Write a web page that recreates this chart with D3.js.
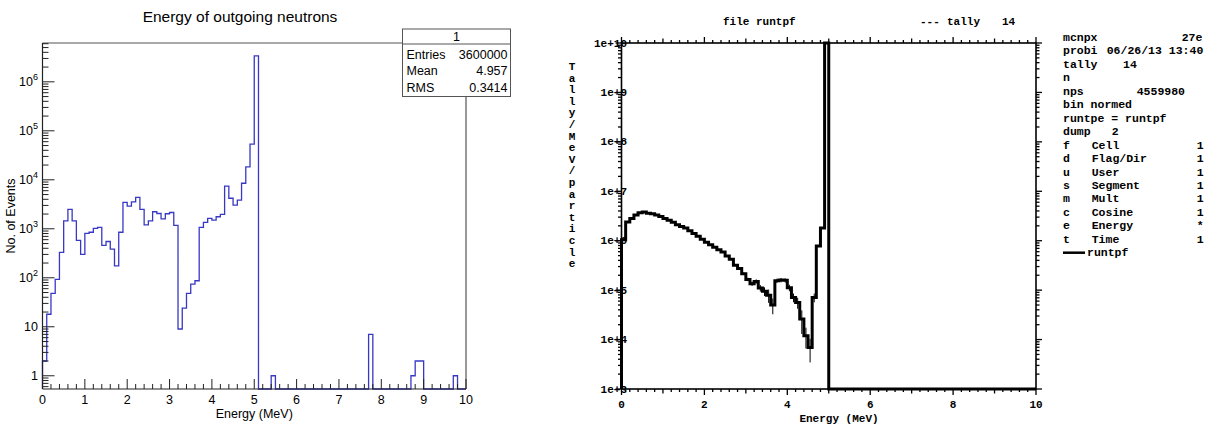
<!DOCTYPE html>
<html><head><meta charset="utf-8">
<script src="https://cdn.jsdelivr.net/npm/d3@7"></script>
<style>body{margin:0;background:#fff} svg{display:block}</style>
</head><body><svg id="c" width="1222" height="430"></svg>
<script>
// ---------- LEFT PANEL DATA (ROOT histogram, 0.1 MeV bins, 0-10 MeV) ----------
const leftTitle = "Energy of outgoing neutrons";
const leftXTitle = "Energy (MeV)";
const leftYTitle = "No. of Events";
const leftBinWidth = 0.1;
const leftCounts = [
  2, 18, 48, 93, 330, 1450, 2500, 1450, 580, 300,
  810, 850, 1020, 1070, 460, 550, 385, 175, 850, 3450,
  2900, 3550, 4370, 2500, 1200, 1450, 2230, 2050, 1600, 2030,
  2150, 1170, 9, 24, 48, 74, 87, 1070, 1350, 1630,
  1500, 1760, 1970, 7400, 4200, 3030, 3850, 8500, 18400, 53500,
  3400000, 0, 0, 0, 1, 0, 0, 0, 0, 0,
  0, 0, 0, 0, 0, 0, 0, 0, 0, 0,
  0, 0, 0, 0, 0, 0, 0, 7, 0, 0,
  0, 0, 0, 0, 0, 0, 0, 1, 2, 2,
  0, 0, 0, 0, 0, 0, 0, 1, 0, 0
];
const leftXTicks = [0,1,2,3,4,5,6,7,8,9,10];
const leftYDecades = [0,1,2,3,4,5,6];
const statsHeader = "1";
const statsLabels = ["Entries","Mean","RMS"];
const statsValues = ["3600000","4.957","0.3414"];

// ---------- RIGHT PANEL DATA (MCNP tally 14, 0.1 MeV bins, 0-5 MeV) ----------
const rightBinWidth = 0.1;
const rightTally = [
  1.05e6, 2.4e6, 2.8e6, 3.3e6, 3.7e6, 3.8e6, 3.6e6, 3.5e6, 3.3e6, 3.1e6,
  2.8e6, 2.6e6, 2.35e6, 2.1e6, 1.95e6, 1.8e6, 1.6e6, 1.4e6, 1.23e6, 1.07e6,
  9.3e5, 8.3e5, 7.4e5, 6.6e5, 5.9e5, 4.9e5, 4.2e5, 3.2e5, 2.75e5, 2.15e5,
  1.65e5, 1.35e5, 1.5e5, 1.1e5, 9.5e4, 7.9e4, 5.0e4, 1.55e5, 1.6e5, 1.58e5,
  1.12e5, 7.1e4, 5.6e4, 2.6e4, 1.2e4, 6.9e3, 7.1e4, 7.8e5, 1.8e6, 5e10
];
const rightRelErr = [
  0.01,0.01,0.01,0.01,0.01,0.01,0.01,0.01,0.01,0.01,
  0.01,0.01,0.01,0.01,0.01,0.01,0.01,0.01,0.01,0.01,
  0.02,0.02,0.02,0.02,0.02,0.03,0.03,0.04,0.05,0.06,
  0.08,0.1,0.1,0.15,0.2,0.3,0.35,0.1,0.1,0.1,
  0.15,0.2,0.25,0.5,0.45,0.5,0.2,0.05,0.02,0.01
];
const rightXTicks = [0,2,4,6,8,10];
const rightYDecades = [3,4,5,6,7,8,9,10];
const rightTitleLeft = "file runtpf";
const rightYTitle = "Tally/MeV/particle";
const rightXTitle = "Energy (MeV)";
const infoRows = [
  ["mcnpx", "", "27e"],
  ["probi", "06/26/13 13:40", ""],
  ["tally", "14", ""],
  ["n", "", ""],
  ["nps", "4559980", ""],
  ["bin normed", "", ""],
  ["runtpe = runtpf", "", ""],
  ["dump", "2", ""],
  ["f", "Cell", "1"],
  ["d", "Flag/Dir", "1"],
  ["u", "User", "1"],
  ["s", "Segment", "1"],
  ["m", "Mult", "1"],
  ["c", "Cosine", "1"],
  ["e", "Energy", "*"],
  ["t", "Time", "1"]
];
const legendName = "runtpf";

// ================= DRAWING =================
const svg = d3.select("#c");
const sans = "'Liberation Sans', Arial, sans-serif";
const mono = "'Liberation Mono', 'DejaVu Sans Mono', monospace";

// ---------- LEFT ----------
const xL = d3.scaleLinear().domain([0,10]).range([42.5,466]);
const yMinL = 0.537, yMaxL = 6.2e6;
const yL = d3.scaleLog().domain([yMinL,yMaxL]).range([389,43]).clamp(true);
const gL = svg.append("g");

// title
gL.append("text").attr("x",240).attr("y",22).attr("text-anchor","middle")
  .attr("font-family",sans).attr("font-size",15.5).attr("fill","#000").text(leftTitle);

// frame
gL.append("line").attr("x1",xL(0)).attr("x2",xL(10)).attr("y1",43).attr("y2",43).attr("stroke","#555").attr("stroke-width",1.2);
gL.append("line").attr("x1",xL(10)).attr("x2",xL(10)).attr("y1",43).attr("y2",389).attr("stroke","#555").attr("stroke-width",1.2);

// histogram
const ptsL = [[xL(0), yL(yMinL)]];
leftCounts.forEach((v,i)=>{
  const lo = i*leftBinWidth, hi = (i+1)*leftBinWidth;
  const vv = Math.max(v, yMinL);
  ptsL.push([xL(lo), yL(vv)], [xL(hi), yL(vv)]);
});
ptsL.push([xL(10), yL(yMinL)]);
gL.append("path").attr("d", d3.line()(ptsL)).attr("fill","none")
  .attr("stroke","#3838c4").attr("stroke-width",1.3);

// axes lines
gL.append("line").attr("x1",xL(0)).attr("x2",xL(0)).attr("y1",43).attr("y2",389).attr("stroke","#222").attr("stroke-width",1.2);
gL.append("line").attr("x1",xL(0)).attr("x2",xL(10)).attr("y1",389).attr("y2",389).attr("stroke","#222").attr("stroke-width",1.2);

// y ticks
const yTickVals = [];
for (let m=6;m<=9;m++) yTickVals.push({v:m*0.1, major:false});
leftYDecades.forEach(d=>{
  for (let m=1;m<=9;m++){
    const v = m*Math.pow(10,d);
    if (v<=yMaxL) yTickVals.push({v, major:m===1});
  }
});
yTickVals.forEach(t=>{
  const y = yL(t.v);
  gL.append("line").attr("x1",xL(0)).attr("x2",xL(0)+(t.major?12:6))
    .attr("y1",y).attr("y2",y).attr("stroke","#222").attr("stroke-width",1);
});
leftYDecades.forEach(d=>{
  const y = yL(Math.pow(10,d));
  const t = gL.append("text").attr("x",38).attr("y",y+4.5).attr("text-anchor","end")
    .attr("font-family",sans).attr("font-size",12.5).attr("fill","#000");
  if (d===0) t.text("1");
  else if (d===1) t.text("10");
  else {
    t.append("tspan").text("10");
    t.append("tspan").attr("dy",-6).attr("font-size",9).text(String(d));
  }
});
// x ticks
for (let k=0;k<=50;k++){
  const v = k*0.2;
  const major = (k%5===0);
  gL.append("line").attr("x1",xL(v)).attr("x2",xL(v)).attr("y1",389).attr("y2",389-(major?10:5))
    .attr("stroke","#222").attr("stroke-width",1);
}
leftXTicks.forEach(v=>{
  gL.append("text").attr("x",xL(v)).attr("y",404).attr("text-anchor","middle")
    .attr("font-family",sans).attr("font-size",12.5).attr("fill","#000").text(String(v));
});
gL.append("text").attr("x",xL(5)).attr("y",418).attr("text-anchor","middle")
  .attr("font-family",sans).attr("font-size",12.5).attr("fill","#000").text(leftXTitle);
gL.append("text").attr("transform","translate(15,216) rotate(-90)").attr("text-anchor","middle")
  .attr("font-family",sans).attr("font-size",12.5).attr("fill","#000").text(leftYTitle);

// stats box
const bx0=402.5, bx1=510.5, by0=29, byH=44, by1=96.5;
gL.append("rect").attr("x",bx0).attr("y",by0).attr("width",bx1-bx0).attr("height",by1-by0)
  .attr("fill","#fff").attr("stroke","#555").attr("stroke-width",1);
gL.append("line").attr("x1",bx0).attr("x2",bx1).attr("y1",byH).attr("y2",byH).attr("stroke","#555");
gL.append("text").attr("x",(bx0+bx1)/2).attr("y",41).attr("text-anchor","middle")
  .attr("font-family",sans).attr("font-size",12.5).text(statsHeader);
const rowY=[58.5,75,92];
statsLabels.forEach((s,i)=>{
  gL.append("text").attr("x",bx0+4).attr("y",rowY[i]).attr("font-family",sans).attr("font-size",12.5).text(s);
  gL.append("text").attr("x",bx1-3).attr("y",rowY[i]).attr("text-anchor","end").attr("font-family",sans).attr("font-size",12.5).text(statsValues[i]);
});

// ---------- RIGHT ----------
const xR = d3.scaleLinear().domain([0,10]).range([621.5,1036]);
const yR = d3.scaleLog().domain([1e3,1e10]).range([389,43]).clamp(true);
const gR = svg.append("g");

// ticks (outward)
function tickLine(x1,y1,x2,y2,w){ gR.append("line").attr("x1",x1).attr("y1",y1).attr("x2",x2).attr("y2",y2).attr("stroke","#000").attr("stroke-width",w||1.3); }
for (let k=0;k<=50;k++){
  const v=k*0.2, x=xR(v);
  const len = (k%10===0)?6:(k%5===0?4.5:3);
  tickLine(x,43,x,43-len); tickLine(x,389,x,389+len);
}
rightYDecades.forEach(d=>{
  for (let m=1;m<=9;m++){
    if (d===10 && m>1) break;
    const y=yR(m*Math.pow(10,d)); const len = m===1?6:3.5;
    tickLine(621.5,y,621.5-len,y); tickLine(1036,y,1036+len,y);
  }
});
// frame
gR.append("rect").attr("x",621.5).attr("y",43).attr("width",1036-621.5).attr("height",346)
  .attr("fill","none").attr("stroke","#000").attr("stroke-width",1.6);

// error bars
rightTally.forEach((v,i)=>{
  const xc = xR((i+0.5)*rightBinWidth), e = rightRelErr[i];
  gR.append("line").attr("x1",xc).attr("x2",xc).attr("y1",yR(v*(1+e))).attr("y2",yR(Math.max(v*(1-e),1e3)))
    .attr("stroke","#000").attr("stroke-width",1);
});
// tally curve
const ptsR=[[xR(0), yR(1e3)]];
rightTally.forEach((v,i)=>{
  ptsR.push([xR(i*rightBinWidth), yR(v)], [xR((i+1)*rightBinWidth), yR(v)]);
});
ptsR.push([xR(rightTally.length*rightBinWidth), yR(1e3)], [xR(10), yR(1e3)]);
gR.append("path").attr("d", d3.line()(ptsR)).attr("fill","none").attr("stroke","#000")
  .attr("stroke-width",3).attr("stroke-linejoin","miter");

// labels
function monoText(x,y,s,anchor,size){
  return svg.append("text").attr("x",x).attr("y",y).attr("text-anchor",anchor||"start")
    .attr("font-family",mono).attr("font-weight","bold").attr("font-size",size||11)
    .attr("fill","#000").style("white-space","pre").text(s);
}
rightYDecades.forEach(d=>{
  monoText(627, yR(Math.pow(10,d))+3.5, "1e+"+d, "end", 11);
});
rightXTicks.forEach(v=>{ monoText(xR(v), 408, String(v), "middle", 11); });
monoText(839, 422, rightXTitle, "middle", 11);
rightYTitle.split("").forEach((ch,i)=>{ monoText(572, 70+i*11.6, ch, "middle", 11); });
monoText(723, 25, rightTitleLeft, "start", 11);
monoText(920, 25, "---", "start", 11);
monoText(947, 25, "tally", "start", 11);
monoText(1002, 25, "14", "start", 11);

// info block
const infoY0 = 41, infoDy = 13.45;
const col2x = [1181.7,1106.7,1123,0,1136.7,0,0,1111.7];
infoRows.forEach((r,i)=>{
  const y = infoY0 + i*infoDy;
  monoText(1063, y, r[0], "start", 11.5);
  if (r[1]) monoText(i<8 ? col2x[i] : 1091.7, y, r[1], "start", 11.5);
  if (r[2]) monoText(i===0 ? 1181.7 : 1196.7, y, r[2], "start", 11.5);
});
const legY = infoY0 + infoRows.length*infoDy - 3.5;
svg.append("line").attr("x1",1063).attr("x2",1085).attr("y1",legY).attr("y2",legY).attr("stroke","#000").attr("stroke-width",2.5);
monoText(1087, legY+3, legendName, "start", 11.5);
</script></body></html>
